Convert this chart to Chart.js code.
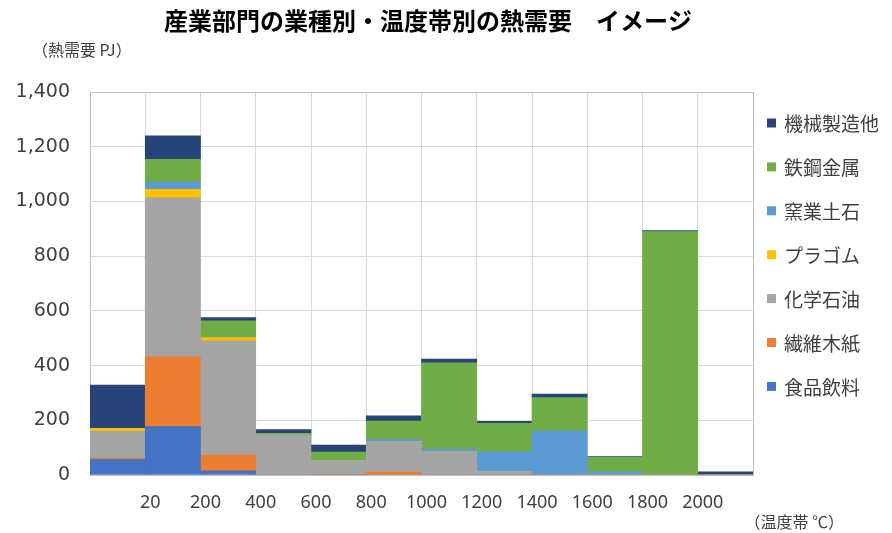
<!DOCTYPE html>
<html>
<head>
<meta charset="utf-8">
<title>産業部門の業種別・温度帯別の熱需要</title>
<script src="https://cdn.jsdelivr.net/npm/chart.js@4.4.0/dist/chart.umd.min.js"></script>
<style>
	body { margin: 0; background: #fff; }
</style>
</head>
<body>
<canvas id="heat-demand" width="892" height="533"></canvas>
<script>
// temperature band boundaries (℃), one label per boundary between bars
var tempLabels = ['20', '200', '400', '600', '800', '1000', '1200', '1400', '1600', '1800', '2000'];

// heat demand (PJ) per band: <20, 20-200, 200-400, ... , 1800-2000, >2000
var food      = [57, 177, 15, 0, 0, 0, 0, 0, 0, 0, 0, 0];
var textile   = [6, 255, 58, 0, 2, 11, 0, 0, 0, 0, 0, 0];
var chemical  = [98, 581, 417, 146, 50, 111, 85, 12, 0, 0, 0, 0];
var plastic   = [10, 31, 12, 0, 0, 0, 0, 0, 0, 0, 0, 0];
var ceramic   = [0, 27, 0, 0, 2, 8, 10, 73, 161, 12, 0, 0];
var steel     = [0, 83, 62, 6, 30, 67, 315, 104, 122, 53, 890, 0];
var machinery = [158, 86, 11, 14, 25, 19, 14, 7, 13, 2, 3, 12];

var textColor = '#404040';
var gridColor = '#d9d9d9';
var frameColor = '#bfbfbf';

// bars sit between boundaries, so put them at i + 0.5 on a linear axis
function toPoints(arr) {
	return arr.map(function(v, i) { return { x: i + 0.5, y: v }; });
}

function series(label, values, color) {
	return {
		label: label,
		data: toPoints(values),
		backgroundColor: color,
		borderWidth: 0,
		barPercentage: 1.0,
		categoryPercentage: 1.0
	};
}

var extraText = {
	id: 'extraText',
	afterDraw: function(chart) {
		var ctx = chart.ctx;
		ctx.save();
		ctx.textBaseline = 'middle';

		ctx.fillStyle = '#000';
		ctx.textAlign = 'center';
		ctx.font = 'bold 24px "Noto Sans CJK JP"';
		ctx.fillText('産業部門の業種別・温度帯別の熱需要　イメージ', 428, 21);

		ctx.fillStyle = textColor;
		ctx.textAlign = 'left';
		ctx.font = '16px "Noto Sans CJK JP"';
		ctx.fillText('（熱需要 PJ）', 32, 50);

		ctx.textAlign = 'right';
		ctx.fillText('（温度帯 ℃）', 844, 522);

		// legend, top item is the last stacked series
		ctx.textAlign = 'left';
		ctx.font = '19px "Noto Sans CJK JP"';
		var sets = chart.data.datasets.slice().reverse();
		sets.forEach(function(ds, i) {
			var y = 123 + i * 43.9;
			ctx.fillStyle = ds.backgroundColor;
			ctx.fillRect(767, y - 4.5, 9, 9);
			ctx.fillStyle = textColor;
			ctx.fillText(ds.label, 784, y + 1);
		});
		ctx.restore();
	}
};

var ctx = document.getElementById('heat-demand');

var heatChart = new Chart(ctx, {
	type: 'bar',
	data: {
		datasets: [
			series('食品飲料', food, '#4472C4'),
			series('繊維木紙', textile, '#ED7D31'),
			series('化学石油', chemical, '#A5A5A5'),
			series('プラゴム', plastic, '#FFC000'),
			series('窯業土石', ceramic, '#5B9BD5'),
			series('鉄鋼金属', steel, '#70AD47'),
			series('機械製造他', machinery, '#264478')
		]
	},
	options: {
		responsive: false,
		animation: false,
		layout: { padding: { top: 92, right: 139, bottom: 0, left: 0 } },
		plugins: {
			legend: { display: false },
			tooltip: { enabled: false },
			title: { display: false }
		},
		scales: {
			x: {
				type: 'linear',
				stacked: true,
				min: 0,
				max: 12,
				offset: false,
				afterFit: function(scale) { scale.height = 58; },
				border: { color: frameColor, width: 1 },
				grid: {
					offset: false,
					drawTicks: false,
					color: function(c) { return c.tick && c.tick.value === 12 ? frameColor : gridColor; }
				},
				ticks: {
					stepSize: 1,
					autoSkip: false,
					maxRotation: 0,
					padding: 17,
					labelOffset: 5,
					color: textColor,
					font: { family: 'Noto Sans', size: 18 },
					callback: function(v) {
						return (v >= 1 && v <= tempLabels.length) ? tempLabels[v - 1] : '';
					}
				}
			},
			y: {
				stacked: true,
				min: 0,
				max: 1400,
				afterFit: function(scale) { scale.width = 90; },
				border: { color: frameColor, width: 1 },
				grid: {
					drawTicks: false,
					color: function(c) { return c.tick && c.tick.value === 1400 ? frameColor : gridColor; }
				},
				ticks: {
					stepSize: 200,
					padding: 20,
					color: textColor,
					font: { family: 'DejaVu Sans', size: 19 }
				}
			}
		}
	},
	plugins: [extraText]
});
</script>
</body>
</html>
